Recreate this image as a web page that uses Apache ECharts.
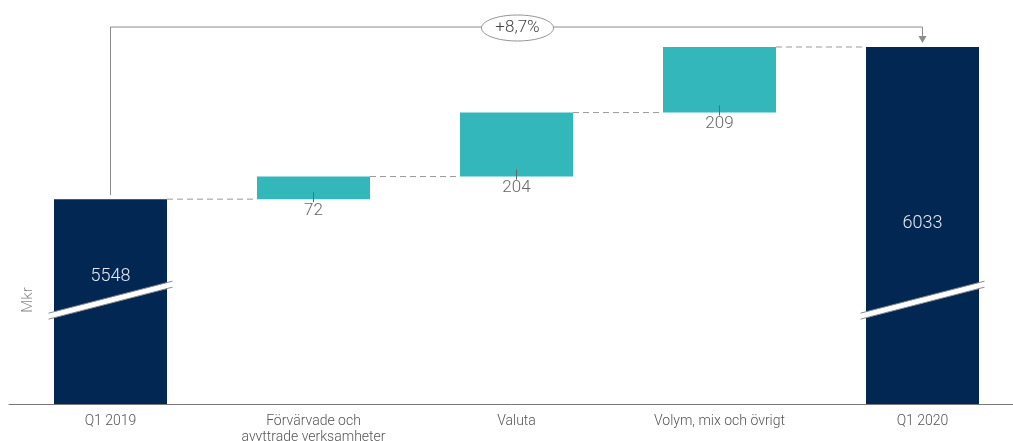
<!DOCTYPE html>
<html>
<head>
<meta charset="utf-8">
<script src="https://cdn.jsdelivr.net/npm/echarts@6/dist/echarts.min.js"></script>
<style>
	html, body { margin: 0; padding: 0; background: #fff; }
	#chart { width: 1013px; height: 441px; }
</style>
</head>
<body>
<div id="chart"></div>
<script>
	// data
	const categories = ['Q1 2019', 'Förvärvade och\navyttrade verksamheter', 'Valuta', 'Volym, mix och övrigt', 'Q1 2020'];
	const startValue = 5548;
	const changes = [72, 204, 209];
	const endValue = 6033;
	const changeText = '+8,7%';
	const unitName = 'Mkr';
	const axisMin = 4895;      // axis is cut, bars start here
	const breakValue = 5226;   // where the cut mark is drawn on the total bars

	const navy = '#022752';
	const teal = '#33b7bb';
	const fontFamily = 'Roboto, "Liberation Sans", sans-serif';

	// build the waterfall series from the arrays
	const totals = [startValue, '-', '-', '-', endValue];
	const base = ['-'];
	const steps = ['-'];
	let running = startValue;
	changes.forEach(c => {
		base.push(running);
		steps.push(c);
		running += c;
	});
	base.push('-');
	steps.push('-');

	const totalLabelDist = [68, 0, 0, 0, 167];

	const chart = echarts.init(document.getElementById('chart'));
	const option = {
		animation: false,
		// grid runs a little past the right edge, like the original slide
		grid: { left: 9, width: 1015, top: 47, bottom: 37, outerBoundsMode: 'none' },
		xAxis: {
			type: 'category',
			data: categories,
			axisTick: { show: false },
			axisLine: { lineStyle: { color: '#777', width: 1 } },
			axisLabel: { color: '#555', fontSize: 14, fontWeight: 300, fontFamily: fontFamily, lineHeight: 16, margin: 9 }
		},
		yAxis: {
			type: 'value',
			min: axisMin,
			max: endValue,
			show: false,
			splitLine: { show: false }
		},
		series: [
			{
				name: 'base',
				type: 'bar',
				stack: 'w',
				barWidth: 113,
				itemStyle: { color: 'transparent' },
				data: base
			},
			{
				name: 'change',
				type: 'bar',
				stack: 'w',
				barWidth: 113,
				itemStyle: { color: teal },
				label: {
					show: true,
					position: 'bottom',
					distance: 3,
					color: '#666',
					fontSize: 17,
					fontWeight: 300,
					fontFamily: fontFamily
				},
				data: steps
			},
			{
				name: 'total',
				type: 'bar',
				stack: 'w',
				barWidth: 113,
				itemStyle: { color: navy },
				data: totals.map((v, i) => v === '-' ? '-' : {
					value: v,
					label: {
						show: true,
						position: 'insideTop',
						distance: totalLabelDist[i],
						color: '#e4e8f0',
						fontSize: 18,
						fontWeight: 300,
						fontFamily: fontFamily
					}
				})
			}
		]
	};
	chart.setOption(option);

	// decorations placed through the axes
	const px = (i, v) => chart.convertToPixel({ xAxisIndex: 0, yAxisIndex: 0 }, [i, v]);
	const half = 113 / 2;
	const tops = [startValue];
	running = startValue;
	changes.forEach(c => { running += c; tops.push(running); });
	tops.push(endValue);

	const graphics = [];
	const gray = '#999';

	// dashed connectors
	for (let i = 0; i < 4; i++) {
		const level = tops[i];
		const a = px(i, level);
		const b = px(i + 1, level);
		graphics.push({
			type: 'line',
			shape: { x1: a[0] + half, y1: a[1], x2: b[0] - half, y2: b[1] },
			style: { stroke: gray, lineWidth: 1, lineDash: [6, 4] },
			z: 5
		});
	}

	// small ticks above the change labels
	for (let i = 1; i <= changes.length; i++) {
		const p = px(i, base[i]);
		graphics.push({
			type: 'line',
			shape: { x1: p[0], y1: p[1] - 7, x2: p[0], y2: p[1] + 3 },
			style: { stroke: '#666', lineWidth: 1 },
			z: 6
		});
	}

	// cut marks on the total bars
	[0, 4].forEach(i => {
		const c = px(i, breakValue);
		const x0 = c[0] - 62, x1 = c[0] + 62;
		const y0 = c[1] + 16, y1 = c[1] - 16;
		graphics.push({
			type: 'polygon',
			shape: { points: [[x0, y0 - 3], [x1, y1 - 3], [x1, y1 + 3], [x0, y0 + 3]] },
			style: { fill: '#fff' },
			z: 10
		});
		graphics.push({
			type: 'line',
			shape: { x1: x0, y1: y0 - 3, x2: x1, y2: y1 - 3 },
			style: { stroke: '#8a8a8a', lineWidth: 1 },
			z: 11
		});
		graphics.push({
			type: 'line',
			shape: { x1: x0, y1: y0 + 3, x2: x1, y2: y1 + 3 },
			style: { stroke: '#8a8a8a', lineWidth: 1 },
			z: 11
		});
	});

	// change arrow over the chart
	const pStart = px(0, startValue);
	const pEnd = px(4, endValue);
	const arrowY = pEnd[1] - 20;
	graphics.push({
		type: 'polyline',
		shape: { points: [[pStart[0], pStart[1] - 4], [pStart[0], arrowY], [pEnd[0], arrowY], [pEnd[0], pEnd[1] - 10]] },
		style: { stroke: '#8c8c8c', lineWidth: 1, fill: null },
		z: 5
	});
	graphics.push({
		type: 'polygon',
		shape: { points: [[pEnd[0] - 4, pEnd[1] - 11], [pEnd[0] + 4, pEnd[1] - 11], [pEnd[0], pEnd[1] - 4]] },
		style: { fill: '#8c8c8c' },
		z: 5
	});
	const mid = px(2, endValue);
	graphics.push({
		type: 'ellipse',
		shape: { cx: mid[0] + 1, cy: arrowY + 1, rx: 36, ry: 13 },
		style: { fill: '#fff', stroke: '#9a9090', lineWidth: 1 },
		z: 7
	});
	graphics.push({
		type: 'text',
		x: mid[0] + 1,
		y: arrowY + 1,
		style: { text: changeText, fill: '#444', fontSize: 17, fontWeight: 300, fontFamily: fontFamily, align: 'center', verticalAlign: 'middle' },
		z: 8
	});

	// unit label
	graphics.push({
		type: 'text',
		x: 28,
		y: 300,
		rotation: Math.PI / 2,
		style: { text: unitName, fill: '#888', fontSize: 15, fontWeight: 300, fontFamily: fontFamily, align: 'center', verticalAlign: 'middle' },
		z: 8
	});

	chart.setOption({ graphic: graphics });
</script>
</body>
</html>
